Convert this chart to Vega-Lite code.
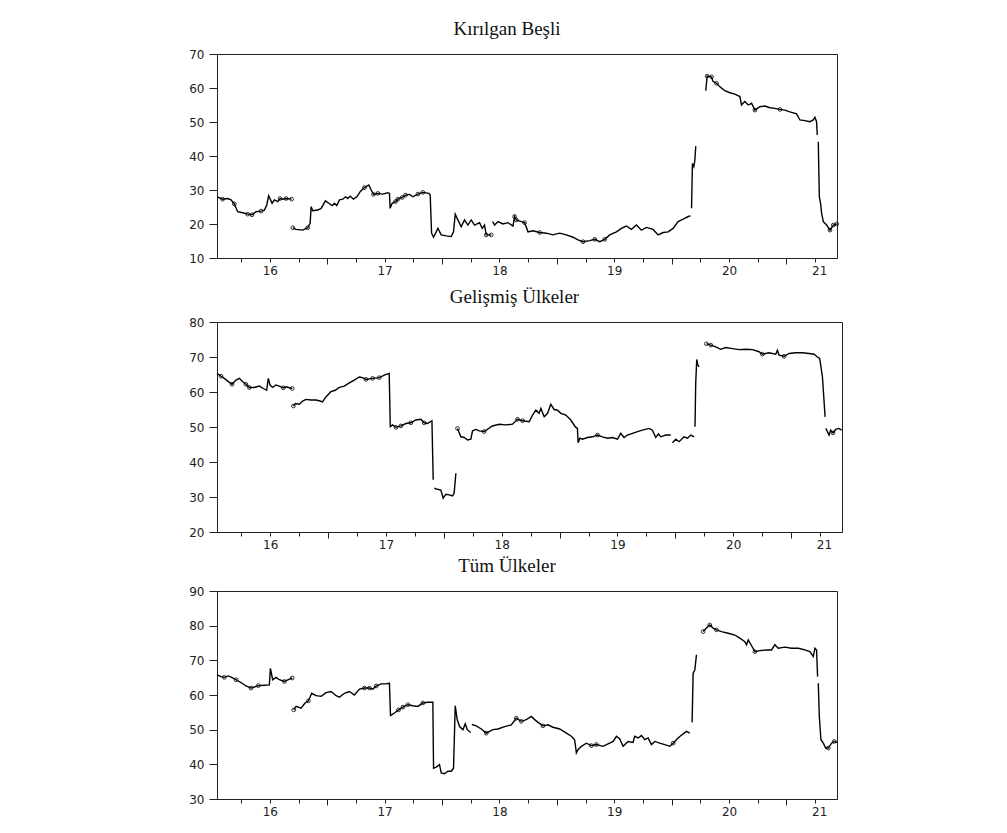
{
  "$schema": "https://vega.github.io/schema/vega-lite/v6.json",
  "autosize": {"type": "pad"},
  "padding": {"left": 177, "top": 19, "right": 4, "bottom": 4},
  "background": "white",
  "spacing": 3,
  "config": {
    "view": {"stroke": "#222", "strokeWidth": 1},
    "axis": {"domainColor": "#222", "tickColor": "#222", "labelColor": "#222", "labelFont": "DejaVu Sans", "labelFontSize": 12, "grid": false, "title": null, "labelOverlap": false, "tickCount": 40},
    "title": {"font": "Liberation Serif", "fontSize": 19, "fontWeight": "normal", "color": "#111", "offset": 9, "anchor": "middle", "frame": "group"}
  },
  "datasets": {
    "kb": [
      {"t":2016.040,"v":28.0,"s":1},{"t":2016.089,"v":27.3,"s":1,"m":1},{"t":2016.133,"v":27.5,"s":1},{"t":2016.162,"v":27.1,"s":1},{"t":2016.191,"v":25.9,"s":1,"m":1},{"t":2016.220,"v":23.6,"s":1},{"t":2016.264,"v":23.3,"s":1},{"t":2016.307,"v":22.9,"s":1,"m":1},{"t":2016.345,"v":22.7,"s":1,"m":1},{"t":2016.380,"v":23.6,"s":1},{"t":2016.424,"v":23.8,"s":1,"m":1},{"t":2016.453,"v":24.1,"s":1},{"t":2016.473,"v":25.6,"s":1},{"t":2016.490,"v":28.3,"s":1},{"t":2016.520,"v":26.1,"s":1},{"t":2016.540,"v":27.1,"s":1},{"t":2016.569,"v":26.6,"s":1},{"t":2016.589,"v":27.5,"s":1,"m":1},{"t":2016.613,"v":27.3,"s":1},{"t":2016.642,"v":27.5,"s":1,"m":1},{"t":2016.690,"v":27.3,"s":1,"m":1},
      {"t":2016.700,"v":18.9,"s":2,"m":1},{"t":2016.729,"v":18.4,"s":2},{"t":2016.787,"v":18.2,"s":2},{"t":2016.830,"v":18.9,"s":2,"m":1},{"t":2016.851,"v":20.2,"s":2},{"t":2016.860,"v":25.1,"s":2},{"t":2016.874,"v":23.9,"s":2},{"t":2016.918,"v":24.1,"s":2},{"t":2016.947,"v":24.6,"s":2},{"t":2016.984,"v":26.8,"s":2},{"t":2017.014,"v":26.1,"s":2},{"t":2017.043,"v":25.4,"s":2},{"t":2017.063,"v":26.1,"s":2},{"t":2017.083,"v":25.4,"s":2},{"t":2017.107,"v":27.1,"s":2},{"t":2017.136,"v":27.3,"s":2},{"t":2017.159,"v":28.0,"s":2},{"t":2017.179,"v":27.5,"s":2},{"t":2017.200,"v":28.2,"s":2},{"t":2017.229,"v":27.3,"s":2},{"t":2017.258,"v":28.0,"s":2},{"t":2017.287,"v":29.5,"s":2},{"t":2017.324,"v":30.7,"s":2,"m":1},{"t":2017.362,"v":31.5,"s":2},{"t":2017.383,"v":30.0,"s":2},{"t":2017.403,"v":28.7,"s":2,"m":1},{"t":2017.441,"v":29.0,"s":2,"m":1},{"t":2017.484,"v":28.8,"s":2},{"t":2017.528,"v":29.2,"s":2},{"t":2017.542,"v":29.0,"s":2},{"t":2017.548,"v":24.6,"s":2},{"t":2017.566,"v":26.1,"s":2},{"t":2017.595,"v":26.6,"s":2,"m":1},{"t":2017.615,"v":27.3,"s":2,"m":1},{"t":2017.653,"v":27.8,"s":2,"m":1},{"t":2017.682,"v":28.5,"s":2,"m":1},{"t":2017.717,"v":28.7,"s":2},{"t":2017.746,"v":28.0,"s":2},{"t":2017.790,"v":28.8,"s":2,"m":1},{"t":2017.833,"v":29.3,"s":2,"m":1},{"t":2017.885,"v":29.0,"s":2},{"t":2017.897,"v":28.5,"s":2},{"t":2017.909,"v":17.3,"s":2},{"t":2017.926,"v":16.1,"s":2},{"t":2017.964,"v":18.7,"s":2},{"t":2017.993,"v":16.8,"s":2},{"t":2018.037,"v":16.5,"s":2},{"t":2018.080,"v":16.3,"s":2},{"t":2018.100,"v":17.7,"s":2},{"t":2018.115,"v":22.9,"s":2},{"t":2018.138,"v":21.2,"s":2},{"t":2018.167,"v":19.2,"s":2},{"t":2018.196,"v":21.2,"s":2},{"t":2018.225,"v":19.7,"s":2},{"t":2018.254,"v":21.2,"s":2},{"t":2018.283,"v":19.7,"s":2},{"t":2018.327,"v":20.4,"s":2},{"t":2018.350,"v":18.7,"s":2},{"t":2018.370,"v":19.7,"s":2},{"t":2018.385,"v":16.8,"s":2,"m":1},{"t":2018.429,"v":16.8,"s":2,"m":1},
      {"t":2018.440,"v":20.7,"s":3},{"t":2018.458,"v":19.7,"s":3},{"t":2018.487,"v":20.7,"s":3},{"t":2018.531,"v":20.0,"s":3},{"t":2018.574,"v":20.4,"s":3},{"t":2018.618,"v":19.4,"s":3},{"t":2018.632,"v":22.2,"s":3,"m":1},{"t":2018.647,"v":21.2,"s":3,"m":1},{"t":2018.690,"v":20.7,"s":3},{"t":2018.719,"v":20.4,"s":3,"m":1},{"t":2018.749,"v":17.7,"s":3},{"t":2018.792,"v":18.0,"s":3},{"t":2018.850,"v":17.5,"s":3,"m":1},{"t":2018.908,"v":17.3,"s":3},{"t":2018.966,"v":16.8,"s":3},{"t":2019.025,"v":17.3,"s":3},{"t":2019.083,"v":16.8,"s":3},{"t":2019.141,"v":16.1,"s":3},{"t":2019.184,"v":15.3,"s":3},{"t":2019.228,"v":14.8,"s":3,"m":1},{"t":2019.286,"v":15.1,"s":3},{"t":2019.330,"v":15.5,"s":3,"m":1},{"t":2019.373,"v":14.8,"s":3},{"t":2019.417,"v":15.5,"s":3,"m":1},{"t":2019.460,"v":16.8,"s":3},{"t":2019.519,"v":17.7,"s":3},{"t":2019.562,"v":18.7,"s":3},{"t":2019.606,"v":19.4,"s":3},{"t":2019.649,"v":18.4,"s":3},{"t":2019.693,"v":19.7,"s":3},{"t":2019.737,"v":18.2,"s":3},{"t":2019.780,"v":19.0,"s":3},{"t":2019.838,"v":18.4,"s":3},{"t":2019.882,"v":16.8,"s":3},{"t":2019.926,"v":17.5,"s":3},{"t":2019.969,"v":17.7,"s":3},{"t":2020.013,"v":18.7,"s":3},{"t":2020.056,"v":20.7,"s":3},{"t":2020.100,"v":21.4,"s":3},{"t":2020.144,"v":22.2,"s":3},{"t":2020.164,"v":22.4,"s":3},
      {"t":2020.173,"v":24.6,"s":4},{"t":2020.181,"v":37.8,"s":4},{"t":2020.193,"v":36.9,"s":4},{"t":2020.202,"v":38.8,"s":4},{"t":2020.210,"v":42.9,"s":4},
      {"t":2020.297,"v":59.2,"s":5},{"t":2020.309,"v":63.5,"s":5,"m":1},{"t":2020.347,"v":63.3,"s":5,"m":1},{"t":2020.361,"v":61.9,"s":5},{"t":2020.390,"v":61.4,"s":5,"m":1},{"t":2020.419,"v":60.4,"s":5},{"t":2020.463,"v":59.2,"s":5},{"t":2020.507,"v":58.6,"s":5},{"t":2020.550,"v":58.2,"s":5},{"t":2020.594,"v":57.5,"s":5},{"t":2020.608,"v":55.0,"s":5},{"t":2020.637,"v":56.0,"s":5},{"t":2020.667,"v":55.0,"s":5},{"t":2020.696,"v":55.5,"s":5},{"t":2020.725,"v":53.5,"s":5,"m":1},{"t":2020.768,"v":54.5,"s":5},{"t":2020.812,"v":54.7,"s":5},{"t":2020.855,"v":54.2,"s":5},{"t":2020.899,"v":54.0,"s":5},{"t":2020.943,"v":53.7,"s":5,"m":1},{"t":2020.986,"v":53.5,"s":5},{"t":2021.030,"v":53.0,"s":5},{"t":2021.088,"v":52.4,"s":5},{"t":2021.117,"v":50.6,"s":5},{"t":2021.161,"v":50.4,"s":5},{"t":2021.204,"v":50.1,"s":5},{"t":2021.233,"v":50.6,"s":5},{"t":2021.248,"v":51.4,"s":5},{"t":2021.262,"v":50.1,"s":5},{"t":2021.268,"v":46.2,"s":5},
      {"t":2021.277,"v":44.2,"s":6},{"t":2021.286,"v":28.0,"s":6},{"t":2021.297,"v":26.1,"s":6},{"t":2021.306,"v":23.1,"s":6},{"t":2021.321,"v":20.7,"s":6},{"t":2021.350,"v":19.7,"s":6},{"t":2021.379,"v":18.2,"s":6,"m":1},{"t":2021.408,"v":19.7,"s":6,"m":1},{"t":2021.437,"v":20.0,"s":6,"m":1}
    ],
    "gu": [
      {"t":2016.040,"v":65.3,"s":1},{"t":2016.075,"v":64.5,"s":1,"m":1},{"t":2016.103,"v":63.9,"s":1},{"t":2016.141,"v":62.9,"s":1},{"t":2016.170,"v":62.2,"s":1,"m":1},{"t":2016.204,"v":63.4,"s":1},{"t":2016.233,"v":63.9,"s":1},{"t":2016.262,"v":62.9,"s":1},{"t":2016.290,"v":62.2,"s":1,"m":1},{"t":2016.319,"v":61.3,"s":1,"m":1},{"t":2016.362,"v":61.3,"s":1},{"t":2016.406,"v":61.7,"s":1},{"t":2016.440,"v":61.0,"s":1},{"t":2016.469,"v":60.5,"s":1},{"t":2016.483,"v":63.9,"s":1},{"t":2016.498,"v":62.0,"s":1},{"t":2016.521,"v":61.3,"s":1},{"t":2016.549,"v":62.0,"s":1},{"t":2016.578,"v":61.7,"s":1},{"t":2016.613,"v":61.2,"s":1,"m":1},{"t":2016.636,"v":61.5,"s":1},{"t":2016.690,"v":61.0,"s":1,"m":1},
      {"t":2016.700,"v":56.0,"s":2,"m":1},{"t":2016.716,"v":56.7,"s":2},{"t":2016.751,"v":56.5,"s":2},{"t":2016.780,"v":57.4,"s":2},{"t":2016.809,"v":57.9,"s":2},{"t":2016.852,"v":57.7,"s":2},{"t":2016.895,"v":57.7,"s":2},{"t":2016.924,"v":57.5,"s":2},{"t":2016.952,"v":57.2,"s":2},{"t":2016.981,"v":58.6,"s":2},{"t":2017.024,"v":60.1,"s":2},{"t":2017.062,"v":60.5,"s":2},{"t":2017.096,"v":61.3,"s":2},{"t":2017.140,"v":61.7,"s":2},{"t":2017.183,"v":62.6,"s":2},{"t":2017.226,"v":63.4,"s":2},{"t":2017.269,"v":64.3,"s":2},{"t":2017.298,"v":64.1,"s":2},{"t":2017.327,"v":63.6,"s":2,"m":1},{"t":2017.384,"v":63.9,"s":2,"m":1},{"t":2017.442,"v":64.1,"s":2,"m":1},{"t":2017.485,"v":64.8,"s":2},{"t":2017.528,"v":65.3,"s":2},{"t":2017.537,"v":50.1,"s":2},{"t":2017.557,"v":50.6,"s":2},{"t":2017.586,"v":49.9,"s":2,"m":1},{"t":2017.629,"v":50.3,"s":2,"m":1},{"t":2017.672,"v":51.0,"s":2},{"t":2017.715,"v":51.2,"s":2,"m":1},{"t":2017.758,"v":52.0,"s":2},{"t":2017.802,"v":52.2,"s":2},{"t":2017.830,"v":51.2,"s":2,"m":1},{"t":2017.859,"v":51.0,"s":2},{"t":2017.897,"v":51.8,"s":2},{"t":2017.908,"v":34.9,"s":2},
      {"t":2017.917,"v":32.5,"s":3},{"t":2017.946,"v":32.2,"s":3},{"t":2017.974,"v":32.0,"s":3},{"t":2017.994,"v":29.7,"s":3},{"t":2018.018,"v":30.8,"s":3},{"t":2018.046,"v":30.6,"s":3},{"t":2018.075,"v":30.3,"s":3},{"t":2018.089,"v":31.1,"s":3},{"t":2018.104,"v":36.8,"s":3},
      {"t":2018.118,"v":49.6,"s":4,"m":1},{"t":2018.147,"v":47.2,"s":4},{"t":2018.176,"v":47.0,"s":4},{"t":2018.205,"v":46.3,"s":4},{"t":2018.233,"v":46.5,"s":4},{"t":2018.248,"v":48.9,"s":4},{"t":2018.277,"v":49.3,"s":4},{"t":2018.305,"v":48.9,"s":4},{"t":2018.349,"v":48.7,"s":4,"m":1},{"t":2018.420,"v":50.3,"s":4},{"t":2018.478,"v":50.8,"s":4},{"t":2018.536,"v":50.6,"s":4},{"t":2018.594,"v":50.8,"s":4},{"t":2018.636,"v":52.2,"s":4,"m":1},{"t":2018.680,"v":51.8,"s":4,"m":1},{"t":2018.737,"v":51.5,"s":4},{"t":2018.766,"v":53.4,"s":4},{"t":2018.795,"v":54.8,"s":4},{"t":2018.823,"v":53.9,"s":4},{"t":2018.838,"v":55.3,"s":4},{"t":2018.867,"v":52.9,"s":4},{"t":2018.896,"v":53.9,"s":4},{"t":2018.924,"v":56.5,"s":4},{"t":2018.953,"v":55.0,"s":4},{"t":2018.982,"v":54.8,"s":4},{"t":2019.011,"v":53.9,"s":4},{"t":2019.054,"v":53.4,"s":4},{"t":2019.097,"v":52.0,"s":4},{"t":2019.134,"v":50.1,"s":4},{"t":2019.154,"v":49.6,"s":4},{"t":2019.160,"v":45.5,"s":4},{"t":2019.175,"v":46.8,"s":4},{"t":2019.198,"v":46.5,"s":4},{"t":2019.241,"v":47.0,"s":4},{"t":2019.284,"v":47.2,"s":4},{"t":2019.327,"v":47.7,"s":4,"m":1},{"t":2019.370,"v":47.2,"s":4},{"t":2019.414,"v":46.8,"s":4},{"t":2019.457,"v":47.0,"s":4},{"t":2019.500,"v":46.5,"s":4},{"t":2019.528,"v":48.2,"s":4},{"t":2019.557,"v":47.0,"s":4},{"t":2019.586,"v":47.7,"s":4},{"t":2019.630,"v":48.2,"s":4},{"t":2019.673,"v":48.7,"s":4},{"t":2019.716,"v":49.1,"s":4},{"t":2019.773,"v":49.6,"s":4},{"t":2019.802,"v":49.1,"s":4},{"t":2019.831,"v":47.0,"s":4},{"t":2019.854,"v":48.0,"s":4},{"t":2019.874,"v":47.2,"s":4},{"t":2019.918,"v":47.7,"s":4},{"t":2019.960,"v":47.7,"s":4},
      {"t":2019.975,"v":45.5,"s":5},{"t":2020.004,"v":46.5,"s":5},{"t":2020.033,"v":45.8,"s":5},{"t":2020.075,"v":47.2,"s":5},{"t":2020.105,"v":46.8,"s":5},{"t":2020.134,"v":47.7,"s":5},{"t":2020.162,"v":47.2,"s":5},
      {"t":2020.170,"v":50.1,"s":6},{"t":2020.176,"v":62.4,"s":6},{"t":2020.185,"v":69.3,"s":6},{"t":2020.194,"v":67.7,"s":6},{"t":2020.205,"v":67.2,"s":6},
      {"t":2020.268,"v":73.8,"s":7,"m":1},{"t":2020.306,"v":73.4,"s":7,"m":1},{"t":2020.349,"v":72.9,"s":7},{"t":2020.392,"v":72.2,"s":7},{"t":2020.436,"v":72.7,"s":7},{"t":2020.493,"v":72.4,"s":7},{"t":2020.551,"v":72.1,"s":7},{"t":2020.608,"v":72.2,"s":7},{"t":2020.666,"v":72.1,"s":7},{"t":2020.723,"v":71.5,"s":7},{"t":2020.752,"v":70.8,"s":7,"m":1},{"t":2020.809,"v":71.2,"s":7},{"t":2020.868,"v":70.8,"s":7},{"t":2020.882,"v":71.9,"s":7},{"t":2020.896,"v":70.5,"s":7},{"t":2020.939,"v":70.2,"s":7,"m":1},{"t":2020.983,"v":71.0,"s":7},{"t":2021.040,"v":71.2,"s":7},{"t":2021.098,"v":71.2,"s":7},{"t":2021.155,"v":71.0,"s":7},{"t":2021.199,"v":70.8,"s":7},{"t":2021.227,"v":70.0,"s":7},{"t":2021.247,"v":69.6,"s":7},{"t":2021.256,"v":67.7,"s":7},{"t":2021.271,"v":64.3,"s":7},{"t":2021.294,"v":52.9,"s":7},
      {"t":2021.300,"v":49.6,"s":8},{"t":2021.313,"v":48.7,"s":8},{"t":2021.328,"v":47.7,"s":8},{"t":2021.342,"v":49.1,"s":8},{"t":2021.362,"v":48.3,"s":8,"m":1},{"t":2021.386,"v":49.3,"s":8},{"t":2021.414,"v":49.6,"s":8},{"t":2021.437,"v":49.1,"s":8}
    ],
    "tu": [
      {"t":2016.040,"v":65.8,"s":1},{"t":2016.075,"v":65.3,"s":1},{"t":2016.104,"v":65.1,"s":1,"m":1},{"t":2016.139,"v":65.5,"s":1},{"t":2016.168,"v":65.1,"s":1},{"t":2016.206,"v":64.4,"s":1,"m":1},{"t":2016.249,"v":63.6,"s":1},{"t":2016.293,"v":62.6,"s":1},{"t":2016.336,"v":62.0,"s":1,"m":1},{"t":2016.365,"v":62.3,"s":1},{"t":2016.400,"v":62.7,"s":1,"m":1},{"t":2016.453,"v":62.8,"s":1},{"t":2016.496,"v":62.9,"s":1},{"t":2016.505,"v":67.7,"s":1},{"t":2016.525,"v":64.4,"s":1},{"t":2016.554,"v":65.1,"s":1},{"t":2016.583,"v":64.4,"s":1},{"t":2016.627,"v":63.9,"s":1,"m":1},{"t":2016.671,"v":64.6,"s":1},{"t":2016.695,"v":64.9,"s":1,"m":1},
      {"t":2016.708,"v":55.7,"s":2,"m":1},{"t":2016.729,"v":56.7,"s":2},{"t":2016.772,"v":56.2,"s":2},{"t":2016.807,"v":57.7,"s":2},{"t":2016.836,"v":58.3,"s":2,"m":1},{"t":2016.865,"v":60.5,"s":2},{"t":2016.903,"v":59.8,"s":2},{"t":2016.947,"v":59.6,"s":2},{"t":2016.990,"v":60.7,"s":2},{"t":2017.034,"v":61.0,"s":2},{"t":2017.077,"v":59.8,"s":2},{"t":2017.107,"v":59.4,"s":2},{"t":2017.150,"v":60.5,"s":2},{"t":2017.194,"v":61.0,"s":2},{"t":2017.237,"v":60.0,"s":2},{"t":2017.281,"v":61.7,"s":2},{"t":2017.324,"v":62.0,"s":2,"m":1},{"t":2017.368,"v":62.0,"s":2,"m":1},{"t":2017.397,"v":61.7,"s":2},{"t":2017.426,"v":62.6,"s":2,"m":1},{"t":2017.470,"v":63.2,"s":2},{"t":2017.513,"v":63.2,"s":2},{"t":2017.542,"v":63.4,"s":2},{"t":2017.551,"v":54.1,"s":2},{"t":2017.586,"v":54.8,"s":2},{"t":2017.621,"v":55.7,"s":2,"m":1},{"t":2017.659,"v":56.5,"s":2,"m":1},{"t":2017.702,"v":57.2,"s":2,"m":1},{"t":2017.746,"v":56.9,"s":2},{"t":2017.790,"v":56.7,"s":2},{"t":2017.833,"v":57.7,"s":2,"m":1},{"t":2017.877,"v":57.9,"s":2},{"t":2017.920,"v":57.9,"s":2},{"t":2017.926,"v":38.9,"s":2},{"t":2017.949,"v":39.2,"s":2},{"t":2017.978,"v":39.9,"s":2},{"t":2017.993,"v":37.5,"s":2},{"t":2018.022,"v":37.3,"s":2},{"t":2018.051,"v":38.0,"s":2},{"t":2018.080,"v":38.0,"s":2},{"t":2018.100,"v":38.9,"s":2},{"t":2018.115,"v":56.9,"s":2},{"t":2018.132,"v":52.9,"s":2},{"t":2018.153,"v":50.9,"s":2},{"t":2018.182,"v":50.0,"s":2},{"t":2018.202,"v":51.7,"s":2},{"t":2018.220,"v":50.0,"s":2},{"t":2018.249,"v":49.2,"s":2},
      {"t":2018.260,"v":51.5,"s":3},{"t":2018.298,"v":51.1,"s":3},{"t":2018.342,"v":50.2,"s":3},{"t":2018.385,"v":49.0,"s":3,"m":1},{"t":2018.443,"v":50.0,"s":3},{"t":2018.487,"v":50.2,"s":3},{"t":2018.545,"v":50.9,"s":3},{"t":2018.603,"v":51.4,"s":3},{"t":2018.647,"v":53.3,"s":3,"m":1},{"t":2018.690,"v":52.4,"s":3,"m":1},{"t":2018.734,"v":52.9,"s":3},{"t":2018.778,"v":53.8,"s":3},{"t":2018.807,"v":52.9,"s":3},{"t":2018.836,"v":52.1,"s":3},{"t":2018.879,"v":51.1,"s":3,"m":1},{"t":2018.923,"v":51.4,"s":3},{"t":2018.966,"v":50.7,"s":3},{"t":2019.025,"v":50.2,"s":3},{"t":2019.083,"v":49.0,"s":3},{"t":2019.126,"v":48.1,"s":3},{"t":2019.155,"v":47.1,"s":3},{"t":2019.170,"v":43.3,"s":3},{"t":2019.184,"v":44.2,"s":3},{"t":2019.214,"v":45.2,"s":3},{"t":2019.257,"v":46.1,"s":3},{"t":2019.301,"v":45.4,"s":3,"m":1},{"t":2019.344,"v":45.7,"s":3,"m":1},{"t":2019.402,"v":45.2,"s":3},{"t":2019.446,"v":45.9,"s":3},{"t":2019.490,"v":46.6,"s":3},{"t":2019.519,"v":48.1,"s":3},{"t":2019.548,"v":47.3,"s":3},{"t":2019.577,"v":45.2,"s":3},{"t":2019.620,"v":46.6,"s":3},{"t":2019.664,"v":46.3,"s":3},{"t":2019.678,"v":48.1,"s":3},{"t":2019.708,"v":47.6,"s":3},{"t":2019.737,"v":48.3,"s":3},{"t":2019.766,"v":47.1,"s":3},{"t":2019.795,"v":47.6,"s":3},{"t":2019.824,"v":45.7,"s":3},{"t":2019.853,"v":46.6,"s":3},{"t":2019.896,"v":46.1,"s":3},{"t":2019.940,"v":45.7,"s":3},{"t":2019.984,"v":45.2,"s":3},{"t":2020.013,"v":46.1,"s":3,"m":1},{"t":2020.056,"v":47.6,"s":3},{"t":2020.100,"v":48.8,"s":3},{"t":2020.129,"v":49.5,"s":3},{"t":2020.158,"v":49.0,"s":3},
      {"t":2020.178,"v":52.1,"s":4},{"t":2020.187,"v":66.3,"s":4},{"t":2020.202,"v":67.3,"s":4},{"t":2020.216,"v":71.6,"s":4},
      {"t":2020.274,"v":78.3,"s":5,"m":1},{"t":2020.303,"v":79.3,"s":5},{"t":2020.332,"v":80.2,"s":5,"m":1},{"t":2020.361,"v":79.3,"s":5},{"t":2020.390,"v":78.8,"s":5,"m":1},{"t":2020.434,"v":78.3,"s":5},{"t":2020.492,"v":77.8,"s":5},{"t":2020.550,"v":77.3,"s":5},{"t":2020.594,"v":76.4,"s":5},{"t":2020.637,"v":75.4,"s":5},{"t":2020.652,"v":74.5,"s":5},{"t":2020.667,"v":75.9,"s":5},{"t":2020.696,"v":74.2,"s":5},{"t":2020.725,"v":72.5,"s":5,"m":1},{"t":2020.768,"v":72.8,"s":5},{"t":2020.826,"v":73.0,"s":5},{"t":2020.870,"v":73.0,"s":5},{"t":2020.899,"v":74.5,"s":5},{"t":2020.928,"v":73.5,"s":5},{"t":2020.986,"v":73.8,"s":5},{"t":2021.044,"v":73.5,"s":5},{"t":2021.103,"v":73.5,"s":5},{"t":2021.161,"v":73.0,"s":5},{"t":2021.204,"v":72.5,"s":5},{"t":2021.233,"v":71.1,"s":5},{"t":2021.248,"v":73.5,"s":5},{"t":2021.262,"v":73.0,"s":5},{"t":2021.271,"v":65.3,"s":5},
      {"t":2021.277,"v":63.4,"s":6},{"t":2021.286,"v":53.8,"s":6},{"t":2021.300,"v":47.1,"s":6},{"t":2021.321,"v":46.1,"s":6},{"t":2021.341,"v":44.7,"s":6},{"t":2021.364,"v":44.7,"s":6,"m":1},{"t":2021.393,"v":46.1,"s":6},{"t":2021.416,"v":46.6,"s":6,"m":1},{"t":2021.440,"v":46.3,"s":6}
    ]
  },
  "vconcat": [
    {
      "spacing": 8,
      "vconcat": [
        {
          "title": {"text": "Kırılgan Beşli", "dx": -20},
          "width": 620, "height": 204,
          "data": {"name": "kb"},
          "layer": [
            {"mark": {"type": "line", "color": "#000", "strokeWidth": 1.4},
             "encoding": {
               "x": {"field": "t", "type": "quantitative", "scale": {"domain": [2016.04, 2021.44], "nice": false, "zero": false},
                     "axis": {"values": [2016.25,2016.5,2016.75,2017,2017.25,2017.5,2017.75,2018,2018.25,2018.5,2018.75,2019,2019.25,2019.5,2019.75,2020,2020.25,2020.5,2020.75,2021,2021.25],
                              "tickCount": 40,
                              "labelExpr": "datum.value == 2016.5 ? '16' : datum.value == 2017.5 ? '17' : datum.value == 2018.5 ? '18' : datum.value == 2019.5 ? '19' : datum.value == 2020.5 ? '20' : datum.value == 2021.25 ? '21' : ''",
                              "tickSize": {"condition": {"test": "datum.value == 2017 || datum.value == 2018 || datum.value == 2019 || datum.value == 2020 || datum.value == 2021", "value": 6}, "value": 4},
                              "labelOffset": {"condition": {"test": "datum.value == 2021.25", "value": 4}, "value": 0},
                              "labelOverlap": false, "labelFlush": false, "labelPadding": 3}},
               "y": {"field": "v", "type": "quantitative", "scale": {"domain": [10, 70], "nice": false, "zero": false},
                     "axis": {"values": [10,20,30,40,50,60,70], "tickCount": 40, "tickSize": 8, "labelPadding": 5, "minExtent": 34, "labelOverlap": false}},
               "detail": {"field": "s"}
             }},
            {"transform": [{"filter": "datum.m == 1"}],
             "mark": {"type": "point", "shape": "circle", "filled": false, "color": "#000", "size": 14, "strokeWidth": 0.8, "opacity": 1},
             "encoding": {"x": {"field": "t", "type": "quantitative"}, "y": {"field": "v", "type": "quantitative"}}}
          ]
        },
        {
          "title": {"text": "Gelişmiş Ülkeler", "dx": -15},
          "width": 625, "height": 210,
          "data": {"name": "gu"},
          "layer": [
            {"mark": {"type": "line", "color": "#000", "strokeWidth": 1.4},
             "encoding": {
               "x": {"field": "t", "type": "quantitative", "scale": {"domain": [2016.04, 2021.44], "nice": false, "zero": false},
                     "axis": {"values": [2016.25,2016.5,2016.75,2017,2017.25,2017.5,2017.75,2018,2018.25,2018.5,2018.75,2019,2019.25,2019.5,2019.75,2020,2020.25,2020.5,2020.75,2021,2021.25],
                              "tickCount": 40,
                              "labelExpr": "datum.value == 2016.5 ? '16' : datum.value == 2017.5 ? '17' : datum.value == 2018.5 ? '18' : datum.value == 2019.5 ? '19' : datum.value == 2020.5 ? '20' : datum.value == 2021.25 ? '21' : ''",
                              "tickSize": {"condition": {"test": "datum.value == 2017 || datum.value == 2018 || datum.value == 2019 || datum.value == 2020 || datum.value == 2021", "value": 6}, "value": 4},
                              "labelOffset": {"condition": {"test": "datum.value == 2021.25", "value": 4}, "value": 0},
                              "labelOverlap": false, "labelFlush": false, "labelPadding": 3}},
               "y": {"field": "v", "type": "quantitative", "scale": {"domain": [20, 80], "nice": false, "zero": false},
                     "axis": {"values": [20,30,40,50,60,70,80], "tickCount": 40, "tickSize": 8, "labelPadding": 5, "minExtent": 34, "labelOverlap": false}},
               "detail": {"field": "s"}
             }},
            {"transform": [{"filter": "datum.m == 1"}],
             "mark": {"type": "point", "shape": "circle", "filled": false, "color": "#000", "size": 14, "strokeWidth": 0.8, "opacity": 1},
             "encoding": {"x": {"field": "t", "type": "quantitative"}, "y": {"field": "v", "type": "quantitative"}}}
          ]
        }
      ]
    },
    {
      "title": {"text": "Tüm Ülkeler", "dx": -20},
      "width": 620, "height": 208,
      "data": {"name": "tu"},
      "layer": [
        {"mark": {"type": "line", "color": "#000", "strokeWidth": 1.4},
         "encoding": {
           "x": {"field": "t", "type": "quantitative", "scale": {"domain": [2016.04, 2021.44], "nice": false, "zero": false},
                 "axis": {"values": [2016.25,2016.5,2016.75,2017,2017.25,2017.5,2017.75,2018,2018.25,2018.5,2018.75,2019,2019.25,2019.5,2019.75,2020,2020.25,2020.5,2020.75,2021,2021.25],
                          "tickCount": 40,
                          "labelExpr": "datum.value == 2016.5 ? '16' : datum.value == 2017.5 ? '17' : datum.value == 2018.5 ? '18' : datum.value == 2019.5 ? '19' : datum.value == 2020.5 ? '20' : datum.value == 2021.25 ? '21' : ''",
                          "tickSize": {"condition": {"test": "datum.value == 2017 || datum.value == 2018 || datum.value == 2019 || datum.value == 2020 || datum.value == 2021", "value": 6}, "value": 4},
                          "labelOffset": {"condition": {"test": "datum.value == 2021.25", "value": 4}, "value": 0},
                          "labelOverlap": false, "labelFlush": false, "labelPadding": 3}},
           "y": {"field": "v", "type": "quantitative", "scale": {"domain": [30, 90], "nice": false, "zero": false},
                 "axis": {"values": [30,40,50,60,70,80,90], "tickCount": 40, "tickSize": 8, "labelPadding": 5, "minExtent": 39, "labelOverlap": false}},
           "detail": {"field": "s"}
         }},
        {"transform": [{"filter": "datum.m == 1"}],
         "mark": {"type": "point", "shape": "circle", "filled": false, "color": "#000", "size": 14, "strokeWidth": 0.8, "opacity": 1},
         "encoding": {"x": {"field": "t", "type": "quantitative"}, "y": {"field": "v", "type": "quantitative"}}}
      ]
    }
  ]
}
